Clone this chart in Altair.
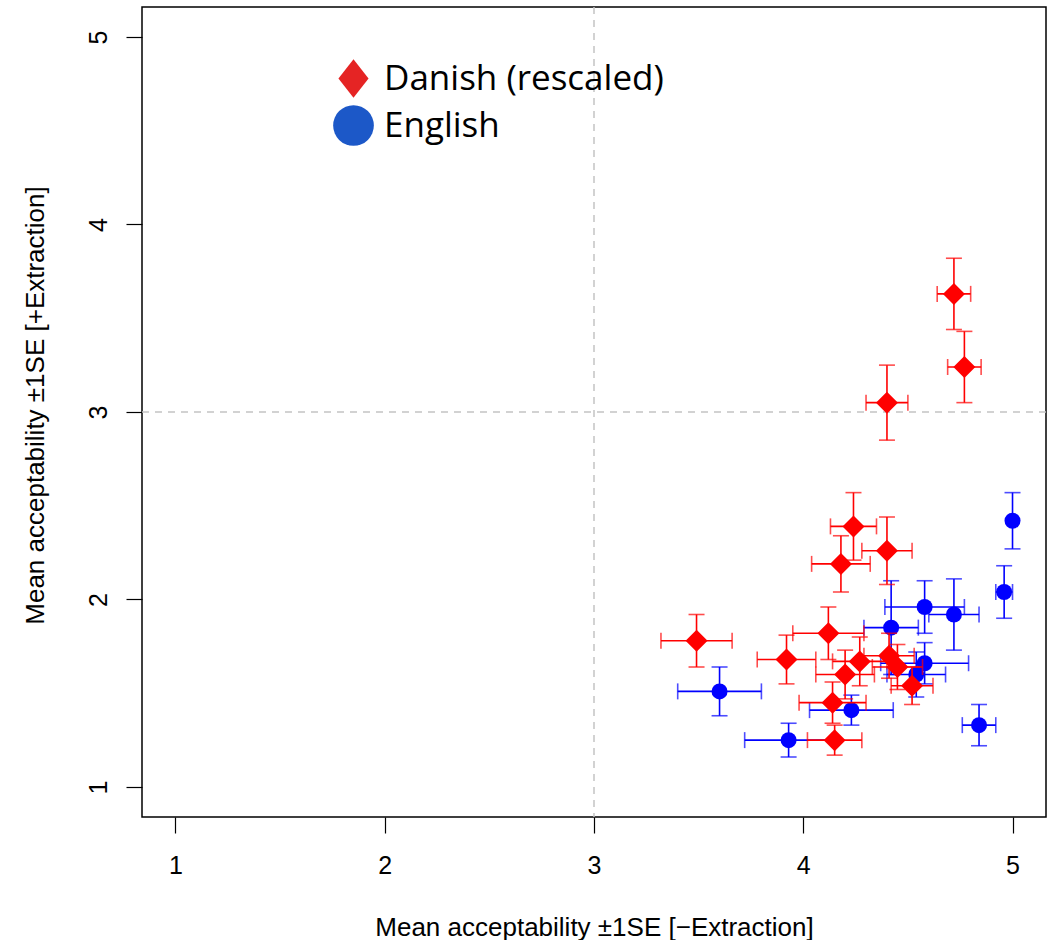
import altair as alt
import pandas as pd

# Danish (rescaled) - red diamonds
dan_x = [4.72, 4.77, 4.40, 4.24, 4.40, 4.18, 3.49, 4.12, 3.92, 4.27, 4.20, 4.41, 4.45, 4.52, 4.14, 4.15]
dan_y = [3.63, 3.24, 3.05, 2.39, 2.26, 2.19, 1.78, 1.82, 1.68, 1.67, 1.60, 1.70, 1.64, 1.54, 1.45, 1.25]
dan_xe = [0.08, 0.08, 0.10, 0.11, 0.12, 0.14, 0.17, 0.17, 0.14, 0.13, 0.14, 0.12, 0.12, 0.10, 0.16, 0.13]
dan_ye = [0.19, 0.19, 0.20, 0.18, 0.18, 0.15, 0.14, 0.14, 0.13, 0.13, 0.13, 0.12, 0.12, 0.10, 0.11, 0.08]

# English - blue circles
eng_x = [5.00, 4.96, 4.58, 4.72, 4.42, 4.58, 4.54, 3.60, 4.23, 4.84, 3.93]
eng_y = [2.42, 2.04, 1.96, 1.92, 1.85, 1.66, 1.60, 1.51, 1.41, 1.33, 1.25]
eng_xe = [0.00, 0.04, 0.19, 0.12, 0.13, 0.21, 0.14, 0.20, 0.20, 0.08, 0.21]
eng_ye = [0.15, 0.14, 0.14, 0.19, 0.25, 0.11, 0.12, 0.13, 0.08, 0.11, 0.09]

series_names = ["Danish (rescaled)", "English"]
ticks = [1, 2, 3, 4, 5]
ref_lines = [3]

DOM = [0.84, 5.16]
xs = alt.Scale(domain=DOM, nice=False, zero=False)
ys = alt.Scale(domain=DOM, nice=False, zero=False)

XT = "Mean acceptability ±1SE [−Extraction]"
YT = "Mean acceptability ±1SE [+Extraction]"

xaxis = alt.Axis(values=ticks, format="d", grid=False, domain=False, tickSize=16,
                 tickColor="black", tickWidth=1.2, labelFontSize=25, labelFont="Liberation Sans",
                 labelColor="black", labelPadding=20,
                 title=XT, titleFontSize=26,
                 titleFont="Liberation Sans", titleFontWeight="normal", titleColor="black",
                 titleY=110, titleBaseline="middle")
yaxis = alt.Axis(values=ticks, format="d", grid=False, domain=False, tickSize=16,
                 tickColor="black", tickWidth=1.2, labelFontSize=25, labelFont="Liberation Sans",
                 labelColor="black", labelPadding=15, labelAngle=270, labelAlign="center",
                 labelBaseline="bottom",
                 title=YT, titleFontSize=26,
                 titleFont="Liberation Sans", titleFontWeight="normal", titleColor="black",
                 titleAngle=270, titleX=-107, titleY=398, titleBaseline="middle",
                 titleAlign="center")


def X(field):
    return alt.X(field, scale=xs, axis=xaxis, title=XT)


def Y(field):
    return alt.Y(field, scale=ys, axis=yaxis, title=YT)


def series_layers(xv, yv, xe, ye, color, shape, size):
    df = pd.DataFrame({"x": xv, "y": yv, "xe": xe, "ye": ye})
    base = alt.Chart(df).transform_calculate(
        xlo="datum.x - datum.xe", xhi="datum.x + datum.xe",
        ylo="datum.y - datum.ye", yhi="datum.y + datum.ye")
    vr = base.mark_rule(color=color, strokeWidth=1.6).encode(
        x=X("x:Q"), y=Y("ylo:Q"), y2="yhi:Q")
    hr = base.transform_filter("datum.xe > 0").mark_rule(color=color, strokeWidth=1.6).encode(
        x=X("xlo:Q"), x2="xhi:Q", y=Y("y:Q"))
    ycap = base.transform_fold(["ylo", "yhi"], as_=["k", "v"]).mark_tick(
        color=color, orient="horizontal", size=16, thickness=1.6).encode(
        x=X("x:Q"), y=Y("v:Q"))
    xcap = base.transform_filter("datum.xe > 0").transform_fold(["xlo", "xhi"], as_=["k", "v"]).mark_tick(
        color=color, orient="vertical", size=16, thickness=1.6).encode(
        x=X("v:Q"), y=Y("y:Q"))
    pts = base.mark_point(filled=True, color=color, shape=shape, size=size, opacity=1).encode(
        x=X("x:Q"), y=Y("y:Q"))
    return [vr, hr, ycap, xcap, pts]


refv = alt.Chart(pd.DataFrame({"v": ref_lines})).mark_rule(
    color="#c4c4c4", strokeDash=[7, 6], strokeWidth=1.5).encode(x=X("v:Q"))
refh = alt.Chart(pd.DataFrame({"v": ref_lines})).mark_rule(
    color="#c4c4c4", strokeDash=[7, 6], strokeWidth=1.5).encode(y=Y("v:Q"))

eng = series_layers(eng_x, eng_y, eng_xe, eng_ye, "#0000ff", "circle", 256)
dan = series_layers(dan_x, dan_y, dan_xe, dan_ye, "#ff0000", "diamond", 484)

leg_df = pd.DataFrame({"series": series_names, "x": [dan_x[0], eng_x[0]], "y": [dan_y[0], eng_y[0]]})
leg = alt.Legend(orient="none", legendX=191, legendY=51, title=None, symbolSize=1656,
                 labelFontSize=35, labelFont="Open Sans", labelColor="black", symbolOpacity=1,
                 padding=0, labelOffset=10, rowPadding=7, symbolStrokeWidth=0, labelLimit=500)
legend_layer = alt.Chart(leg_df).mark_point(filled=True, opacity=0).encode(
    x=X("x:Q"),
    y=Y("y:Q"),
    color=alt.Color("series:N", scale=alt.Scale(domain=series_names, range=["#e52424", "#1c58c8"]), legend=leg),
    shape=alt.Shape("series:N", scale=alt.Scale(domain=series_names,
                    range=["M0,-0.95L0.74,0L0,0.95L-0.74,0Z", "circle"]), legend=leg),
)

chart = alt.layer(refv, refh, *eng, *dan, legend_layer).properties(
    width=904, height=810,
    background="white",
    autosize=alt.AutoSizeParams(type="none"),
    padding={"left": 142, "top": 7, "right": 6, "bottom": 123},
).configure_view(stroke="black", strokeWidth=1.5)

chart.save("out.html", embed_options={"renderer": "svg", "actions": False})
